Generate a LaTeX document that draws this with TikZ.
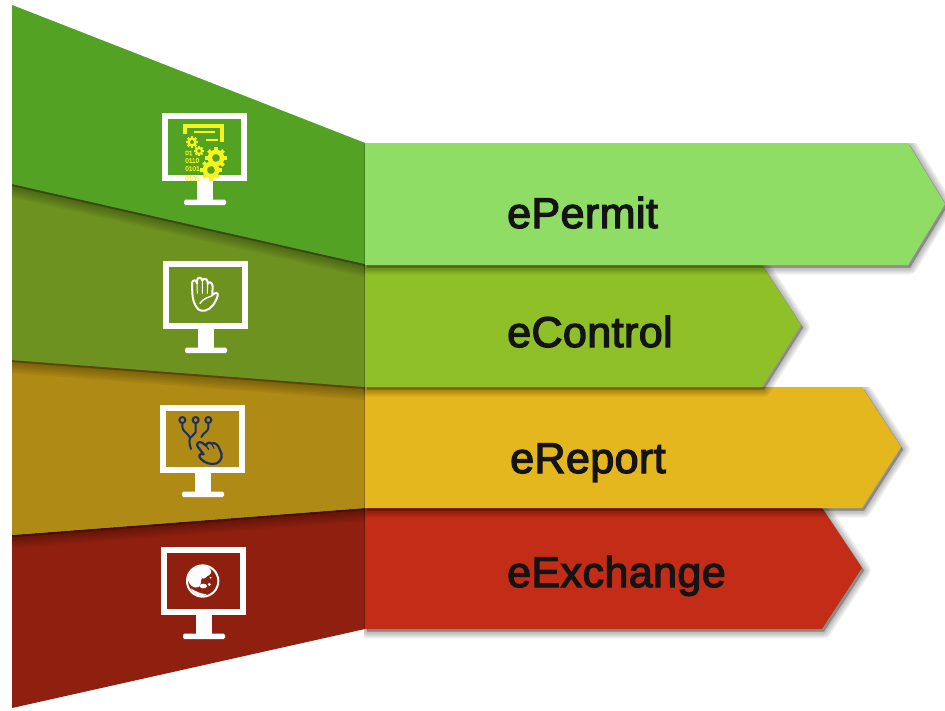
\documentclass[tikz,border=0pt]{standalone}
\usepackage{fontspec}
\setmainfont{Liberation Sans}
\newfontfamily\labelfont[FakeBold=3,LetterSpace=1]{Liberation Sans}
\newfontfamily\bitfont[FakeBold=1]{Liberation Sans}
\usetikzlibrary{calc}
\definecolor{gA}{HTML}{53A224}\definecolor{oA}{HTML}{6E9220}\definecolor{yA}{HTML}{AF8A14}\definecolor{rA}{HTML}{8F200F}
\definecolor{gB}{HTML}{90DD66}\definecolor{oB}{HTML}{90C027}\definecolor{yB}{HTML}{E5B71E}\definecolor{rB}{HTML}{C32D17}
\definecolor{iconY}{HTML}{F4F41E}\definecolor{navy}{HTML}{1C2F5E}\definecolor{inkT}{HTML}{141414}
\tikzset{
  labeltext/.style={anchor=base west,inner sep=0pt,text=inkT,font=\labelfont\fontsize{43}{50}\selectfont},
  bittext/.style={text=iconY,anchor=west,inner sep=0pt,font=\bitfont\fontsize{6.5}{7}\selectfont},
  softshade/.style={black,line join=round,opacity=.052,line width=#1},
  monitorline/.style={white,line width=6,line join=miter},
  iconline/.style={line width=2,line cap=round,line join=round}
}
% soft shadow of a closed polygon, kept below the line y=#1 and right of the panels
\newcommand{\softshadow}[2]{%
  \begin{scope}
    \clip (364,#1) rectangle (945,710);
    \begin{scope}[shift={(2,2.5)}]
      \foreach \w in {14,11.5,9,6.5,4,1.5}{\fill[softshade=\w pt,draw=black] #2;}
    \end{scope}
  \end{scope}}
\newcommand{\panelshadow}[1]{%
  \begin{scope}[shift={(0,2)}]
    \foreach \w in {22,18,14,10,6,2}{\fill[softshade=\w pt,draw=black] #1;}
  \end{scope}}
% monitor: top-left corner #1
\newcommand{\monitor}[1]{%
  \begin{scope}[shift={#1}]
    \draw[monitorline] (3,3) rectangle (82,65);
    \fill[white] (35,68) rectangle (51,87);
    \fill[white,rounded corners=1.5] (22,86.5) rectangle (64,92);
  \end{scope}}
\newcommand{\gearicon}[2]{%
  \draw[iconY,line width=#2*.42] #1 circle ({#2*.58});
  \foreach \a in {0,45,...,315}{\draw[iconY,line width=#2*.36] #1 ++(\a:{#2*.6}) -- ++(\a:{#2*.42});}}
\begin{document}
\begin{tikzpicture}[x=1pt,y=-1pt]
\useasboundingbox (0,0) rectangle (945,710);
\fill[white] (0,0) rectangle (945,710);
% left panels, lowest first
\fill[rA] (12,535) -- (365,508) -- (365,629) -- (12,708) -- cycle;
\begin{scope}
  \clip (12,5) -- (365,143) -- (365,629) -- (12,708) -- cycle;
  \panelshadow{(12,360) -- (365,387) -- (365,508) -- (12,535) -- cycle}
  \fill[yA] (12,360) -- (365,387) -- (365,508) -- (12,535) -- cycle;
  \panelshadow{(12,184) -- (365,264) -- (365,387) -- (12,360) -- cycle}
  \fill[oA] (12,184) -- (365,264) -- (365,387) -- (12,360) -- cycle;
  \panelshadow{(12,5) -- (365,143) -- (365,264) -- (12,184) -- cycle}
  \fill[gA] (12,5) -- (365,143) -- (365,264) -- (12,184) -- cycle;
\end{scope}
% arrows, lowest first
\softshadow{508}{(365,508) -- (822,508) -- (862,568) -- (822,629) -- (365,629) -- cycle}
\fill[rB] (365,508) -- (822,508) -- (862,568) -- (822,629) -- (365,629) -- cycle;
\softshadow{387}{(365,387) -- (862,387) -- (901,447) -- (862,508) -- (365,508) -- cycle}
\fill[yB] (365,387) -- (862,387) -- (901,447) -- (862,508) -- (365,508) -- cycle;
\softshadow{265}{(365,265) -- (762,265) -- (801,325) -- (762,387) -- (365,387) -- cycle}
\fill[oB] (365,265) -- (762,265) -- (801,325) -- (762,387) -- (365,387) -- cycle;
\softshadow{143}{(365,143) -- (908,143) -- (945,204) -- (908,265) -- (365,265) -- cycle}
\fill[gB] (365,143) -- (908,143) -- (945,204) -- (908,265) -- (365,265) -- cycle;
% labels
\node[labeltext] (permit) at (507,228) {ePermit};
\node[labeltext] (control) at (507,347) {eControl};
\node[labeltext] (report) at (510,473) {eReport};
\node[labeltext] (exchange) at (507,587) {eExchange};
% monitors
\monitor{(162,113)}
\monitor{(163,261)}
\monitor{(160,405)}
\monitor{(161,547)}
% icon 1: yellow form with gears
\draw[iconY,line width=3.2,line join=miter] (185,134) -- (185,126) -- (222,126) -- (222,142);
\draw[iconY,line width=1.6] (194,132) -- (215,132);
\draw[iconY,line width=2.6] (206,140) -- (218,140);
\gearicon{(192,142)}{6}
\gearicon{(199,151)}{5}
\gearicon{(216,158)}{10.5}
\gearicon{(211,170)}{10.5}
\node[bittext] (bitsa) at (185,153) {01};
\node[bittext] (bitsb) at (185,160.5) {0110};
\node[bittext] (bitsc) at (185,168.5) {0101};
\node[bittext] (bitsd) at (185,178.5) {0101};
% icon 2: hand
\begin{scope}[shift={(140,250)},x=.3333pt,y=-.3333pt]
  \draw[white,iconline]
    (175,178) .. controls (163,165) and (158,150) .. (157,130) -- (156,100)
    .. controls (156,88) and (170,88) .. (171,100) -- (171,92)
    .. controls (171,80) and (186,80) .. (187,92)
    .. controls (188,84) and (202,84) .. (203,96)
    -- (203,102) .. controls (204,94) and (217,95) .. (218,108) -- (217,135)
    .. controls (225,128) and (237,125) .. (233,138)
    .. controls (228,155) and (215,178) .. (195,182)
    .. controls (185,183) and (180,182) .. (175,178) -- cycle;
  \draw[white,iconline,line width=1] (171,100) -- (172,130) (187,92) -- (187,130) (203,102) -- (202,130);
  \draw[white,iconline,line width=1.4] (180,160) .. controls (190,145) and (205,142) .. (217,137);
\end{scope}
% icon 3: branching paths and pointing hand
\begin{scope}[shift={(140,395)},x=.3333pt,y=-.3333pt]
  \draw[navy,iconline] (127,75) circle (9) (167,75) circle (9) (205,75) circle (9);
  \draw[navy,iconline] (167,84) -- (167,112) -- (150,130) .. controls (146,140) and (150,152) .. (153,162);
  \draw[navy,iconline] (127,84) -- (127,96) .. controls (128,110) and (142,112) .. (150,128);
  \draw[navy,iconline] (205,84) -- (205,98) .. controls (204,112) and (192,110) .. (184,126);
  \draw[navy,iconline,line width=2.2]
    (186,143) .. controls (176,137) and (166,147) .. (174,156) -- (191,178)
    .. controls (178,172) and (174,185) .. (183,192)
    .. controls (195,205) and (215,210) .. (230,205)
    .. controls (245,198) and (250,180) .. (240,165)
    .. controls (235,150) and (225,140) .. (215,146)
    .. controls (208,140) and (200,143) .. (198,152) -- cycle;
  \draw[navy,iconline,line width=1.2] (198,152) -- (206,163) (215,146) -- (222,160);
\end{scope}
% icon 4: globe
\begin{scope}[shift={(140,535)},x=.3333pt,y=-.3333pt]
  \draw[white,line width=2] (188,138) circle (47);
  \fill[white]
    (143,130) .. controls (150,103) and (172,90) .. (200,93)
    .. controls (212,100) and (220,112) .. (208,120)
    .. controls (198,124) and (194,134) .. (186,130)
    .. controls (180,136) and (186,150) .. (176,156)
    .. controls (162,162) and (146,152) .. (143,130) -- cycle;
  \fill[white] (190,153) ellipse (11 and 7);
  \fill[white] (208,148) circle (5);
  \fill[white] (212,128) circle (3);
  \fill[white] (152,160) .. controls (168,170) and (182,176) .. (200,178) .. controls (182,190) and (162,180) .. (152,160) -- cycle;
\end{scope}
\end{tikzpicture}
\end{document}
